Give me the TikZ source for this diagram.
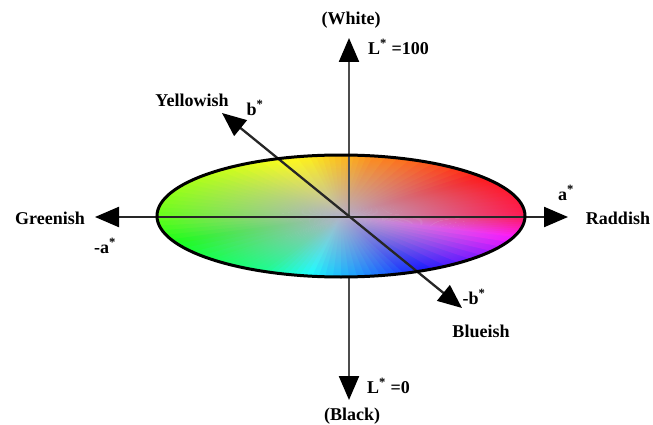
\documentclass[tikz,border=0pt]{standalone}
\usepackage{fontspec}
\setmainfont{Liberation Serif}
\usetikzlibrary{arrows.meta,fadings}
\definecolor{core}{RGB}{180,178,200}
\tikzfading[name=coremask,inner color=transparent!0,outer color=transparent!100]

\begin{document}
\begin{tikzpicture}[
  x=1pt,y=-1pt,
  lbl/.style={font=\fontsize{18}{21}\selectfont\bfseries,inner sep=0pt},
  axis/.style={line width=2.3pt,draw=black!85},
  tip/.style={-{Triangle[length=24pt,width=20pt,color=black]}},
  bitip/.style={{Triangle[length=24pt,width=20pt,color=black]}-{Triangle[length=24pt,width=20pt,color=black]}}
]
  \useasboundingbox (0,0) rectangle (653,425);
  \coordinate (O) at (349,217);
  \coordinate (E) at (341,216);
  \coordinate (wtip) at (349,38);
  \coordinate (ktip) at (349,400);
  \coordinate (ebot) at (349,277);
  \coordinate (gtip) at (95,217);
  \coordinate (rtip) at (568,217);
  \coordinate (ytip) at (222,113);
  \coordinate (btip) at (462,308);

  % colour disc
  \begin{scope}
    \clip (E) ellipse[x radius=184,y radius=61];
    \begin{scope}[shift={(E)},xscale=184,yscale=-61]
      \foreach \pa/\pb/\ha/\hb in {0/40/345/360,40/80/0/30,80/100/30/55,
          100/140/55/80,140/180/80/100,180/225/100/135,225/245/135/150,
          245/265/150/190,265/290/190/230,290/340/230/300,340/360/300/345}{
        \foreach \s in {0,...,9}{
          \pgfmathsetmacro\ps{\pa+(\pb-\pa)*\s/10}
          \pgfmathsetmacro\pe{\pa+(\pb-\pa)*(\s+1.3)/10}
          \pgfmathsetmacro\hue{mod(\ha+(\hb-\ha)*(\s+0.5)/10,360)}
          \definecolor{wedge}{Hsb}{\hue,0.9,1}
          \fill[wedge] (0,0) -- (\ps:1.1) -- (\pe:1.1) -- cycle;
        }
      }
      \fill[core,path fading=coremask] (0,0) circle (1);
    \end{scope}
  \end{scope}

  % axes
  \draw[axis,draw=black!70,tip] (O) -- (wtip);
  \draw[axis,draw=black!70,tip] (ebot) -- (ktip);
  \draw[axis,bitip] (gtip) -- (rtip);
  \draw[axis,bitip] (ytip) -- (btip);
  \draw[line width=3pt] (E) ellipse[x radius=184,y radius=61];

  % labels
  \node[lbl] (white) at (351,20) {(White)};
  \node[lbl,anchor=west] (lhigh) at (368,47) {L\textsuperscript{*} =100};
  \node[lbl] (yellow) at (192,100) {Yellowish};
  \node[lbl] (bplus) at (255,108) {b\textsuperscript{*}};
  \node[lbl] (green) at (50,218) {Greenish};
  \node[lbl] (aminus) at (105,246) {-a\textsuperscript{*}};
  \node[lbl] (aplus) at (566,193) {a\textsuperscript{*}};
  \node[lbl] (red) at (618,218) {Raddish};
  \node[lbl] (bminus) at (474,297) {-b\textsuperscript{*}};
  \node[lbl] (blue) at (481,331) {Blueish};
  \node[lbl,anchor=west] (llow) at (367,386) {L\textsuperscript{*} =0};
  \node[lbl] (black) at (352,416) {(Black)};
\end{tikzpicture}
\end{document}
